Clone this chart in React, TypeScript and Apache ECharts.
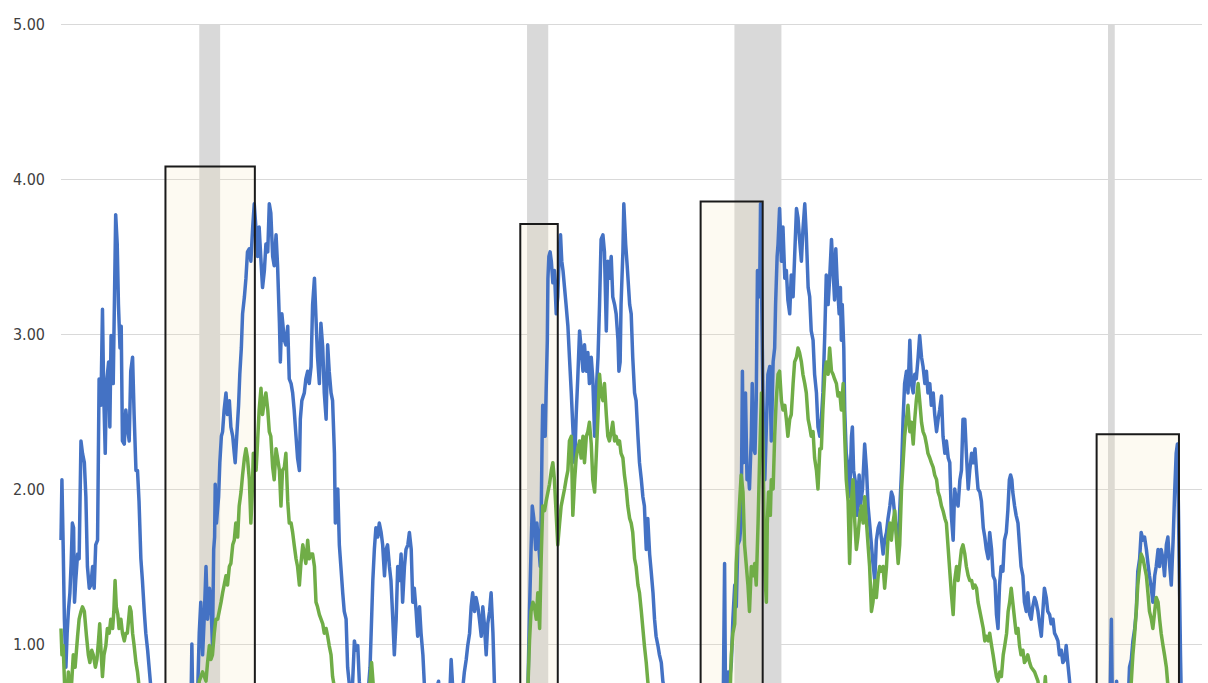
import React, { useEffect, useRef } from "react";
import * as echarts from "echarts";

// Recession periods (decimal years)
const recessions: [number, number][] = [
  [1990.5, 1991.18],
  [2001.17, 2001.86],
  [2007.92, 2009.45],
  [2020.08, 2020.3],
];

// Highlight boxes: start year, end year, top value
const boxStarts = [1989.4, 2000.95, 2006.82, 2019.71];
const boxEnds = [1992.31, 2002.17, 2008.84, 2022.39];
const boxTops = [4.08, 3.71, 3.855, 2.353];

const yTicks = [0, 1, 2, 3, 4, 5];

const blueSeries: [number, number][] = [
  [1986.0, 1.67], [1986.03, 2.06], [1986.07, 1.64], [1986.11, 1.16], [1986.16, 0.85], [1986.2, 1.07], [1986.24, 1.21], [1986.29, 1.33], [1986.33, 1.52], [1986.37, 1.78], [1986.41, 1.75], [1986.44, 1.27], [1986.48, 1.41], [1986.54, 1.58], [1986.59, 1.55], [1986.65, 2.31], [1986.7, 2.23], [1986.76, 2.17], [1986.81, 1.95], [1986.86, 1.5], [1986.92, 1.36], [1986.97, 1.38], [1987.03, 1.5], [1987.08, 1.36], [1987.13, 1.64], [1987.19, 1.67], [1987.24, 2.71], [1987.3, 2.54], [1987.35, 3.16], [1987.39, 2.62], [1987.44, 2.23], [1987.48, 2.68], [1987.55, 2.82], [1987.59, 2.4], [1987.63, 2.99], [1987.7, 2.68], [1987.75, 3.36], [1987.78, 3.77], [1987.83, 3.58], [1987.87, 3.19], [1987.92, 2.91], [1987.96, 3.05], [1988.0, 2.31], [1988.06, 2.29], [1988.11, 2.51], [1988.16, 2.4], [1988.22, 2.31], [1988.27, 2.76], [1988.33, 2.85], [1988.38, 2.48], [1988.44, 2.12], [1988.49, 2.12], [1988.54, 1.92], [1988.6, 1.55], [1988.65, 1.41], [1988.71, 1.21], [1988.76, 1.07], [1988.82, 0.96], [1988.92, 0.73], [1989.2, 0.5], [1989.6, 0.45], [1990.1, 0.55], [1990.23, 0.6], [1990.26, 1.0], [1990.29, 0.6], [1990.45, 0.7],
  [1990.5, 1.07], [1990.55, 1.27], [1990.61, 0.93], [1990.66, 1.16], [1990.72, 1.5], [1990.77, 1.16], [1990.83, 1.36], [1990.88, 1.27], [1990.93, 0.99], [1990.97, 1.61], [1991.0, 1.69], [1991.02, 2.03], [1991.06, 1.78], [1991.13, 1.95], [1991.17, 2.17], [1991.22, 2.34], [1991.26, 2.37], [1991.31, 2.51], [1991.37, 2.62], [1991.42, 2.48], [1991.48, 2.57], [1991.53, 2.4], [1991.59, 2.34], [1991.64, 2.23], [1991.67, 2.17], [1991.72, 2.34], [1991.78, 2.54], [1991.82, 2.74], [1991.87, 2.91], [1991.91, 3.13], [1991.97, 3.24], [1992.02, 3.36], [1992.07, 3.53], [1992.13, 3.55], [1992.18, 3.47], [1992.24, 3.69], [1992.29, 3.84], [1992.35, 3.67], [1992.4, 3.5], [1992.45, 3.69], [1992.51, 3.47], [1992.56, 3.3], [1992.62, 3.41], [1992.67, 3.58], [1992.73, 3.53], [1992.78, 3.84], [1992.83, 3.78], [1992.89, 3.5], [1992.94, 3.44], [1993.0, 3.64], [1993.05, 3.44], [1993.11, 3.07], [1993.14, 2.82], [1993.19, 3.13], [1993.27, 2.96], [1993.32, 2.93], [1993.38, 3.05], [1993.43, 2.71], [1993.49, 2.68], [1993.54, 2.62], [1993.59, 2.51], [1993.65, 2.34], [1993.7, 2.2], [1993.76, 2.12], [1993.79, 2.45], [1993.84, 2.57], [1993.92, 2.62], [1993.97, 2.71], [1994.03, 2.76], [1994.08, 2.68], [1994.14, 2.79], [1994.19, 3.19], [1994.25, 3.36], [1994.3, 3.1], [1994.35, 2.85], [1994.41, 2.68], [1994.46, 3.07], [1994.52, 2.91], [1994.57, 2.62], [1994.63, 2.45], [1994.68, 2.93], [1994.73, 2.76], [1994.79, 2.62], [1994.84, 2.57], [1994.9, 2.23], [1994.93, 1.78], [1994.97, 1.86], [1995.01, 2.0], [1995.06, 1.64], [1995.11, 1.5], [1995.17, 1.33], [1995.22, 1.21], [1995.28, 1.16], [1995.33, 0.85], [1995.39, 0.73], [1995.46, 0.6], [1995.55, 1.02], [1995.6, 0.96], [1995.66, 0.99], [1995.71, 0.76], [1995.78, 0.6], [1995.98, 0.65], [1996.06, 0.85], [1996.15, 1.41], [1996.2, 1.61], [1996.25, 1.75], [1996.31, 1.69], [1996.36, 1.78], [1996.42, 1.72], [1996.47, 1.64], [1996.53, 1.44], [1996.58, 1.61], [1996.63, 1.64], [1996.69, 1.5], [1996.74, 1.41], [1996.8, 1.16], [1996.85, 0.93], [1996.91, 1.16], [1996.96, 1.5],
  [1997.02, 1.41], [1997.07, 1.58], [1997.12, 1.27], [1997.18, 1.5], [1997.23, 1.61], [1997.29, 1.64], [1997.34, 1.72], [1997.4, 1.61], [1997.45, 1.27], [1997.5, 1.36], [1997.56, 1.21], [1997.61, 1.05], [1997.67, 1.24], [1997.72, 1.07], [1997.78, 0.93], [1997.83, 0.73], [1997.99, 0.55], [1998.29, 0.76], [1998.34, 0.6], [1998.64, 0.6], [1998.7, 0.9], [1998.75, 0.72], [1999.02, 0.6], [1999.13, 0.82], [1999.19, 0.9], [1999.24, 0.99], [1999.3, 1.07], [1999.35, 1.24], [1999.4, 1.33], [1999.46, 1.21], [1999.51, 1.3], [1999.57, 1.24], [1999.62, 1.16], [1999.68, 1.05], [1999.73, 1.24], [1999.78, 1.13], [1999.84, 0.93], [1999.89, 1.13], [1999.95, 1.21], [2000.0, 1.33], [2000.06, 1.07], [2000.11, 0.73], [2000.27, 0.5], [2001.14, 0.5], [2001.2, 0.73], [2001.25, 1.21], [2001.3, 1.61], [2001.34, 1.89], [2001.39, 1.81], [2001.45, 1.61], [2001.49, 1.78], [2001.55, 1.64], [2001.6, 1.5], [2001.63, 1.83], [2001.66, 2.31], [2001.68, 2.54], [2001.72, 2.48], [2001.76, 2.34], [2001.79, 2.62], [2001.83, 2.96], [2001.85, 3.36], [2001.88, 3.5], [2001.92, 3.53], [2001.96, 3.47], [2002.01, 3.33], [2002.06, 3.41], [2002.12, 3.13], [2002.17, 3.24], [2002.23, 3.58], [2002.26, 3.64], [2002.3, 3.47], [2002.34, 3.41], [2002.39, 3.3], [2002.44, 3.19], [2002.5, 3.05], [2002.55, 2.85], [2002.61, 2.62], [2002.66, 2.4], [2002.72, 2.17], [2002.77, 2.48], [2002.82, 2.71], [2002.88, 3.02], [2002.93, 2.91], [2002.99, 2.76], [2003.04, 2.93], [2003.1, 2.76], [2003.15, 2.88], [2003.2, 2.68], [2003.26, 2.85], [2003.31, 2.71], [2003.37, 2.34], [2003.42, 2.62], [2003.48, 2.85], [2003.53, 3.19], [2003.58, 3.61],
  [2003.64, 3.64], [2003.69, 3.53], [2003.75, 3.02], [2003.8, 3.47], [2003.85, 3.36], [2003.91, 3.5], [2003.96, 3.24], [2004.02, 3.19], [2004.07, 3.13], [2004.13, 2.96], [2004.16, 2.76], [2004.2, 2.82], [2004.23, 3.19], [2004.29, 3.53], [2004.32, 3.84], [2004.38, 3.58], [2004.43, 3.44], [2004.51, 3.19], [2004.56, 3.13], [2004.61, 2.85], [2004.67, 2.62], [2004.72, 2.57], [2004.78, 2.34], [2004.83, 2.17], [2004.89, 2.06], [2004.94, 1.95], [2004.99, 1.89], [2005.05, 1.61], [2005.1, 1.81], [2005.16, 1.58], [2005.21, 1.47], [2005.27, 1.33], [2005.32, 1.16], [2005.37, 1.05], [2005.43, 0.99], [2005.48, 0.93], [2005.54, 0.88], [2005.59, 0.76], [2005.7, 0.65], [2006.35, 0.4], [2007.55, 0.5], [2007.6, 1.52], [2007.63, 0.65], [2007.71, 0.82], [2007.76, 0.76], [2007.82, 0.88], [2007.87, 1.16], [2007.93, 1.38], [2007.98, 1.24], [2008.03, 1.64], [2008.09, 1.67], [2008.14, 1.78], [2008.18, 2.76], [2008.21, 2.17], [2008.25, 2.34], [2008.28, 2.62], [2008.33, 2.06], [2008.37, 2.12], [2008.41, 2.0], [2008.47, 2.34], [2008.5, 2.68], [2008.55, 2.26], [2008.59, 2.23], [2008.63, 2.57], [2008.67, 3.41], [2008.71, 3.3], [2008.74, 3.24], [2008.77, 3.84], [2008.81, 3.19], [2008.85, 2.57], [2008.88, 2.29], [2008.91, 2.06], [2008.96, 2.4], [2009.01, 2.74], [2009.07, 2.79], [2009.12, 2.31], [2009.18, 2.82], [2009.23, 2.91], [2009.26, 3.19], [2009.31, 3.5], [2009.34, 3.58], [2009.39, 3.81], [2009.45, 3.47], [2009.5, 3.69], [2009.56, 3.36], [2009.61, 3.41], [2009.66, 3.22], [2009.72, 3.13], [2009.77, 3.38], [2009.83, 3.24], [2009.88, 3.5], [2009.94, 3.81], [2009.99, 3.75], [2010.04, 3.61], [2010.1, 3.47],
  [2010.15, 3.67], [2010.21, 3.84], [2010.26, 3.64], [2010.32, 3.3], [2010.37, 3.24], [2010.42, 3.02], [2010.48, 2.96], [2010.53, 2.74], [2010.59, 2.62], [2010.64, 2.4], [2010.7, 2.34], [2010.75, 2.45], [2010.8, 2.62], [2010.86, 2.99], [2010.91, 3.38], [2010.97, 3.19], [2011.02, 3.36], [2011.08, 3.61], [2011.13, 3.41], [2011.18, 3.22], [2011.22, 3.55], [2011.26, 3.36], [2011.33, 3.13], [2011.37, 3.3], [2011.4, 2.96], [2011.43, 3.19], [2011.48, 2.91], [2011.51, 2.51], [2011.56, 2.23], [2011.62, 2.14], [2011.67, 1.95], [2011.73, 2.34], [2011.76, 2.4], [2011.8, 2.12], [2011.87, 2.03], [2011.91, 1.83], [2011.98, 2.09], [2012.02, 1.89], [2012.09, 2.0], [2012.16, 2.29], [2012.22, 2.12], [2012.27, 1.89], [2012.32, 1.78], [2012.38, 1.64], [2012.43, 1.52], [2012.49, 1.41], [2012.54, 1.67], [2012.6, 1.75], [2012.65, 1.78], [2012.7, 1.69], [2012.76, 1.58], [2012.81, 1.67], [2012.87, 1.72], [2012.92, 1.81], [2012.98, 1.89], [2013.03, 1.98], [2013.08, 1.95], [2013.14, 1.83], [2013.19, 1.72], [2013.25, 1.64], [2013.3, 1.86], [2013.36, 2.12], [2013.41, 2.45], [2013.46, 2.68], [2013.52, 2.76], [2013.57, 2.62], [2013.63, 2.96], [2013.68, 2.68], [2013.74, 2.62], [2013.79, 2.74], [2013.84, 2.71], [2013.9, 2.85], [2013.95, 2.99], [2014.01, 2.85], [2014.06, 2.79], [2014.12, 2.68], [2014.17, 2.76], [2014.22, 2.62], [2014.28, 2.68], [2014.33, 2.54], [2014.39, 2.62], [2014.44, 2.48], [2014.5, 2.37], [2014.55, 2.45], [2014.6, 2.51], [2014.66, 2.6], [2014.71, 2.34], [2014.77, 2.23], [2014.82, 2.31], [2014.88, 2.2], [2014.93, 2.17], [2014.98, 1.83], [2015.04, 1.67], [2015.09, 2.0], [2015.15, 1.92], [2015.2, 1.89], [2015.26, 2.06], [2015.31, 2.12], [2015.36, 2.45], [2015.42, 2.45], [2015.47, 2.23], [2015.53, 2.0], [2015.58, 2.12], [2015.64, 2.23], [2015.69, 2.17], [2015.75, 2.26], [2015.8, 2.12], [2015.85, 2.0], [2015.91, 1.98], [2015.96, 1.92], [2016.02, 1.75], [2016.07, 1.69], [2016.12, 1.61], [2016.18, 1.55], [2016.23, 1.72], [2016.29, 1.61], [2016.34, 1.44], [2016.4, 1.41], [2016.45, 1.19], [2016.5, 1.1],
  [2016.55, 1.38], [2016.6, 1.5], [2016.66, 1.47], [2016.71, 1.67], [2016.77, 1.72], [2016.82, 1.86], [2016.87, 2.06], [2016.91, 2.09], [2016.95, 2.06], [2016.98, 1.98], [2017.04, 1.89], [2017.09, 1.83], [2017.15, 1.78], [2017.2, 1.64], [2017.25, 1.5], [2017.31, 1.44], [2017.36, 1.27], [2017.42, 1.21], [2017.47, 1.33], [2017.53, 1.19], [2017.58, 1.16], [2017.63, 1.24], [2017.69, 1.3], [2017.74, 1.27], [2017.8, 1.21], [2017.85, 1.13], [2017.91, 1.05], [2017.96, 1.21], [2018.01, 1.36], [2018.07, 1.3], [2018.12, 1.21], [2018.18, 1.19], [2018.23, 1.13], [2018.29, 1.16], [2018.34, 1.07], [2018.39, 1.05], [2018.45, 1.02], [2018.5, 0.93], [2018.56, 0.96], [2018.61, 0.88], [2018.67, 0.9], [2018.72, 0.99], [2018.77, 0.88], [2018.83, 0.76], [2018.9, 0.6], [2019.75, 0.45], [2020.15, 0.65], [2020.19, 1.16], [2020.22, 0.65], [2020.32, 0.6], [2020.36, 0.76], [2020.4, 0.6], [2020.73, 0.6], [2020.78, 0.85], [2020.84, 0.9], [2020.89, 1.02], [2020.95, 1.1], [2021.0, 1.21], [2021.05, 1.47], [2021.11, 1.55], [2021.16, 1.72], [2021.22, 1.67], [2021.27, 1.69], [2021.33, 1.61], [2021.38, 1.52], [2021.43, 1.44], [2021.49, 1.36], [2021.54, 1.27], [2021.6, 1.44], [2021.65, 1.5], [2021.71, 1.61], [2021.76, 1.5], [2021.81, 1.61], [2021.87, 1.55], [2021.92, 1.44], [2021.98, 1.64], [2022.03, 1.69], [2022.09, 1.5], [2022.14, 1.38], [2022.2, 1.67], [2022.25, 1.98], [2022.3, 2.23], [2022.34, 2.29], [2022.38, 1.78], [2022.41, 1.36], [2022.44, 0.93], [2022.48, 0.5],
];

const greenSeries: [number, number][] = [
  [1986.0, 1.1], [1986.03, 0.93], [1986.07, 0.99], [1986.12, 0.72], [1986.19, 0.65], [1986.24, 0.82], [1986.3, 0.65], [1986.35, 0.76], [1986.4, 0.93], [1986.46, 0.85], [1986.54, 1.05], [1986.59, 1.16], [1986.65, 1.21], [1986.7, 1.24], [1986.76, 1.21], [1986.83, 1.05], [1986.89, 0.93], [1986.94, 0.88], [1987.0, 0.96], [1987.05, 0.93], [1987.12, 0.85], [1987.17, 0.9], [1987.22, 1.02], [1987.26, 1.13], [1987.31, 0.93], [1987.35, 0.79], [1987.4, 0.93], [1987.46, 0.99], [1987.51, 1.1], [1987.57, 1.07], [1987.62, 1.16], [1987.68, 1.1], [1987.72, 1.21], [1987.76, 1.41], [1987.8, 1.24], [1987.85, 1.19], [1987.89, 1.1], [1987.95, 1.16], [1988.0, 1.07], [1988.06, 1.02], [1988.11, 1.07], [1988.16, 1.07], [1988.24, 1.24], [1988.28, 1.21], [1988.33, 1.07], [1988.38, 0.99], [1988.44, 0.88], [1988.49, 0.82], [1988.54, 0.73], [1988.63, 0.6], [1989.5, 0.4], [1990.4, 0.55],
  [1990.5, 0.76], [1990.61, 0.82], [1990.72, 0.76], [1990.77, 0.88], [1990.83, 0.99], [1990.88, 0.9], [1990.93, 0.93], [1990.99, 1.07], [1991.04, 1.16], [1991.1, 1.16], [1991.15, 1.21], [1991.21, 1.27], [1991.26, 1.33], [1991.31, 1.38], [1991.37, 1.44], [1991.42, 1.38], [1991.48, 1.5], [1991.53, 1.52], [1991.59, 1.64], [1991.64, 1.67], [1991.69, 1.78], [1991.75, 1.69], [1991.8, 1.89], [1991.86, 1.98], [1991.91, 2.09], [1991.97, 2.2], [1992.02, 2.26], [1992.07, 2.2], [1992.13, 2.06], [1992.18, 1.78], [1992.22, 1.95], [1992.26, 2.23], [1992.3, 2.17], [1992.35, 2.12], [1992.4, 2.31], [1992.45, 2.51], [1992.51, 2.65], [1992.56, 2.48], [1992.62, 2.57], [1992.67, 2.62], [1992.73, 2.51], [1992.78, 2.37], [1992.83, 2.34], [1992.89, 2.14], [1992.94, 2.06], [1993.0, 2.26], [1993.05, 2.2], [1993.11, 2.12], [1993.16, 1.89], [1993.21, 2.12], [1993.27, 2.14], [1993.32, 2.23], [1993.38, 1.92], [1993.43, 1.78], [1993.49, 1.78], [1993.54, 1.72], [1993.59, 1.64], [1993.65, 1.55], [1993.7, 1.5], [1993.76, 1.38], [1993.81, 1.52], [1993.87, 1.64], [1993.92, 1.58], [1993.97, 1.52], [1994.03, 1.67], [1994.08, 1.55], [1994.14, 1.58], [1994.19, 1.58], [1994.25, 1.5], [1994.3, 1.27], [1994.35, 1.24], [1994.41, 1.19], [1994.52, 1.13], [1994.57, 1.07], [1994.63, 1.1], [1994.68, 1.05], [1994.73, 0.99], [1994.79, 0.93], [1994.84, 0.79], [1994.9, 0.72], [1995.01, 0.55], [1995.98, 0.55], [1996.06, 0.76], [1996.11, 0.88], [1996.17, 0.72], [1996.25, 0.5], [2001.15, 0.45],
  [2001.2, 0.73], [2001.25, 1.02], [2001.3, 1.21], [2001.36, 1.27], [2001.41, 1.24], [2001.47, 1.16], [2001.52, 1.33], [2001.58, 1.1], [2001.63, 1.55], [2001.68, 1.89], [2001.74, 1.86], [2001.79, 1.92], [2001.85, 1.98], [2001.9, 2.03], [2001.96, 2.12], [2002.01, 2.17], [2002.06, 2.06], [2002.12, 1.83], [2002.17, 1.64], [2002.23, 1.78], [2002.28, 1.89], [2002.34, 1.95], [2002.39, 2.0], [2002.44, 2.06], [2002.5, 2.12], [2002.55, 2.31], [2002.61, 2.34], [2002.66, 1.83], [2002.72, 2.06], [2002.77, 2.2], [2002.82, 2.26], [2002.88, 2.31], [2002.93, 2.2], [2002.99, 2.34], [2003.04, 2.17], [2003.1, 2.34], [2003.15, 2.37], [2003.2, 2.43], [2003.26, 2.29], [2003.31, 2.06], [2003.37, 1.98], [2003.42, 2.2], [2003.48, 2.48], [2003.53, 2.74],
  [2003.58, 2.62], [2003.64, 2.57], [2003.69, 2.68], [2003.75, 2.48], [2003.8, 2.34], [2003.85, 2.31], [2003.91, 2.37], [2003.96, 2.43], [2004.02, 2.31], [2004.07, 2.34], [2004.13, 2.29], [2004.18, 2.31], [2004.23, 2.23], [2004.29, 2.2], [2004.34, 2.09], [2004.4, 2.0], [2004.45, 1.89], [2004.51, 1.81], [2004.56, 1.78], [2004.61, 1.72], [2004.67, 1.55], [2004.72, 1.5], [2004.78, 1.38], [2004.83, 1.33], [2004.89, 1.21], [2004.94, 1.1], [2004.99, 0.99], [2005.05, 0.88], [2005.1, 0.76], [2005.18, 0.6], [2006.24, 0.4], [2007.76, 0.55], [2007.82, 0.93], [2007.87, 1.07], [2007.93, 1.13], [2007.98, 1.52], [2008.03, 1.69], [2008.09, 1.92], [2008.14, 2.09], [2008.2, 1.98], [2008.25, 1.64], [2008.31, 1.5], [2008.36, 1.38], [2008.41, 1.21], [2008.47, 1.5], [2008.52, 1.44], [2008.58, 1.52], [2008.63, 1.38], [2008.69, 1.78], [2008.74, 2.2], [2008.8, 2.62], [2008.85, 2.29], [2008.9, 1.5], [2008.96, 1.27], [2008.99, 1.78], [2009.03, 1.98], [2009.09, 1.83], [2009.12, 2.06], [2009.18, 2.0], [2009.23, 2.34], [2009.28, 2.57], [2009.34, 2.74], [2009.39, 2.76], [2009.45, 2.57], [2009.5, 2.51], [2009.56, 2.54], [2009.61, 2.45], [2009.66, 2.34], [2009.72, 2.45], [2009.77, 2.48], [2009.83, 2.68], [2009.88, 2.82], [2009.94, 2.85], [2009.99, 2.91], [2010.04, 2.88],
  [2010.1, 2.82], [2010.15, 2.74], [2010.21, 2.68], [2010.26, 2.62], [2010.32, 2.45], [2010.37, 2.4], [2010.42, 2.34], [2010.48, 2.37], [2010.53, 2.2], [2010.59, 2.12], [2010.64, 2.0], [2010.7, 2.26], [2010.75, 2.26], [2010.8, 2.51], [2010.86, 2.74], [2010.91, 2.82], [2010.97, 2.74], [2011.02, 2.91], [2011.08, 2.76], [2011.13, 2.74], [2011.18, 2.71], [2011.24, 2.68], [2011.29, 2.6], [2011.35, 2.62], [2011.4, 2.51], [2011.46, 2.68], [2011.51, 2.34], [2011.56, 2.06], [2011.62, 1.92], [2011.67, 1.52], [2011.73, 1.92], [2011.78, 2.06], [2011.84, 1.78], [2011.89, 1.61], [2011.94, 1.69], [2012.0, 1.83], [2012.05, 1.89], [2012.11, 1.78], [2012.16, 1.95], [2012.22, 1.78], [2012.27, 1.64], [2012.32, 1.5], [2012.38, 1.21], [2012.43, 1.27], [2012.49, 1.41], [2012.54, 1.3], [2012.6, 1.44], [2012.65, 1.5], [2012.7, 1.47], [2012.76, 1.5], [2012.81, 1.36], [2012.87, 1.5], [2012.92, 1.69], [2012.98, 1.78], [2013.03, 1.67], [2013.08, 1.78], [2013.14, 1.86], [2013.19, 1.69], [2013.25, 1.52], [2013.3, 1.64], [2013.36, 2.0], [2013.41, 2.17], [2013.46, 2.34], [2013.52, 2.45], [2013.57, 2.54], [2013.63, 2.37], [2013.68, 2.43], [2013.74, 2.29], [2013.79, 2.45], [2013.84, 2.57], [2013.9, 2.68], [2013.95, 2.57], [2014.01, 2.43], [2014.06, 2.37], [2014.12, 2.34], [2014.17, 2.29], [2014.22, 2.23], [2014.28, 2.2], [2014.33, 2.17], [2014.39, 2.14], [2014.44, 2.09], [2014.5, 2.06], [2014.55, 1.98], [2014.6, 1.95], [2014.66, 1.89], [2014.71, 1.86], [2014.77, 1.81], [2014.82, 1.78], [2014.88, 1.61], [2014.93, 1.47], [2014.98, 1.33], [2015.04, 1.19], [2015.09, 1.41], [2015.15, 1.5], [2015.2, 1.41], [2015.26, 1.52], [2015.31, 1.61], [2015.36, 1.64], [2015.42, 1.58], [2015.47, 1.5], [2015.53, 1.44], [2015.58, 1.41], [2015.64, 1.41], [2015.69, 1.36], [2015.75, 1.38], [2015.8, 1.36], [2015.85, 1.27], [2015.91, 1.21], [2015.96, 1.16], [2016.02, 1.1], [2016.07, 1.02], [2016.12, 1.05], [2016.18, 1.02], [2016.23, 1.07], [2016.29, 0.99], [2016.34, 0.93], [2016.4, 0.85], [2016.45, 0.79], [2016.5, 0.76], [2016.56, 0.82], [2016.61, 0.79], [2016.67, 0.93], [2016.72, 0.99], [2016.78, 1.07], [2016.83, 1.21], [2016.88, 1.27],
  [2016.93, 1.36], [2016.98, 1.27], [2017.04, 1.16], [2017.09, 1.07], [2017.15, 1.1], [2017.2, 0.99], [2017.25, 0.93], [2017.31, 0.96], [2017.36, 0.88], [2017.42, 0.9], [2017.47, 0.93], [2017.53, 0.88], [2017.58, 0.85], [2017.69, 0.82], [2017.8, 0.76], [2017.88, 0.6], [2017.99, 0.65], [2018.04, 0.79], [2018.08, 0.65], [2018.23, 0.4], [2020.73, 0.45], [2020.84, 0.76], [2020.89, 0.93], [2020.95, 1.07], [2021.0, 1.21], [2021.05, 1.38], [2021.11, 1.5], [2021.16, 1.58], [2021.22, 1.55], [2021.27, 1.5], [2021.33, 1.44], [2021.38, 1.33], [2021.43, 1.21], [2021.49, 1.16], [2021.54, 1.1], [2021.6, 1.21], [2021.65, 1.3], [2021.71, 1.27], [2021.76, 1.16], [2021.81, 1.07], [2021.87, 0.99], [2021.92, 0.93], [2021.98, 0.85], [2022.03, 0.73], [2022.12, 0.5],
];

const FONT = "'DejaVu Sans Condensed', 'Liberation Sans', sans-serif";

export default function App() {
  const ref = useRef<HTMLDivElement>(null);

  useEffect(() => {
    if (!ref.current) return;
    const chart = echarts.init(ref.current, undefined, { renderer: "svg" });
    const boxAreas = boxStarts.map((s, i) => [
      { xAxis: s, yAxis: boxTops[i] },
      { xAxis: boxEnds[i], yAxis: yTicks[0] },
    ]);
    chart.setOption({
      animation: false,
      backgroundColor: "#ffffff",
      grid: { left: 61, right: 6, top: 24, bottom: 1, containLabel: false, outerBoundsMode: "none" },
      xAxis: {
        type: "value",
        min: 1986.0,
        max: 2023.14,
        show: false,
      },
      yAxis: {
        type: "value",
        min: yTicks[0],
        max: yTicks[yTicks.length - 1],
        interval: 1,
        axisLine: { show: false },
        axisTick: { show: false },
        axisLabel: {
          showMinLabel: false,
          formatter: (v: number) => (v < 0.75 ? "" : v.toFixed(2)),
          color: "#404040",
          fontSize: 16,
          fontFamily: FONT,
          margin: 16,
        },
        splitLine: { lineStyle: { color: "#d9d9d9", width: 1 } },
      },
      series: [
        {
          type: "line",
          data: [],
          silent: true,
          markArea: {
            silent: true,
            z: 1,
            itemStyle: { color: "#d9d9d9" },
            data: recessions.map(([a, b]) => [{ xAxis: a }, { xAxis: b }]),
          },
        },
        {
          type: "line",
          data: [],
          silent: true,
          markArea: {
            silent: true,
            z: 1.2,
            itemStyle: { color: "rgba(245,225,180,0.17)" },
            data: boxAreas,
          },
        },
        {
          type: "line",
          name: "Blue",
          data: blueSeries,
          showSymbol: false,
          silent: true,
          z: 3,
          lineStyle: { color: "#4472c4", width: 3.5, join: "round" },
        },
        {
          type: "line",
          name: "Green",
          data: greenSeries,
          showSymbol: false,
          silent: true,
          z: 4,
          lineStyle: { color: "#70ad47", width: 3.5, join: "round" },
        },
        {
          type: "line",
          data: [],
          silent: true,
          z: 6,
          markArea: {
            silent: true,
            z: 6,
            itemStyle: { color: "rgba(0,0,0,0)", borderColor: "#1a1a1a", borderWidth: 2 },
            data: boxAreas,
          },
        },
      ],
    });
    return () => chart.dispose();
  }, []);

  return (
    <div
      style={{
        position: "fixed",
        left: 0,
        top: 0,
        width: 1208,
        height: 683,
        overflow: "hidden",
        background: "#ffffff",
      }}
    >
      <div ref={ref} style={{ width: 1208, height: 800 }} />
    </div>
  );
}
